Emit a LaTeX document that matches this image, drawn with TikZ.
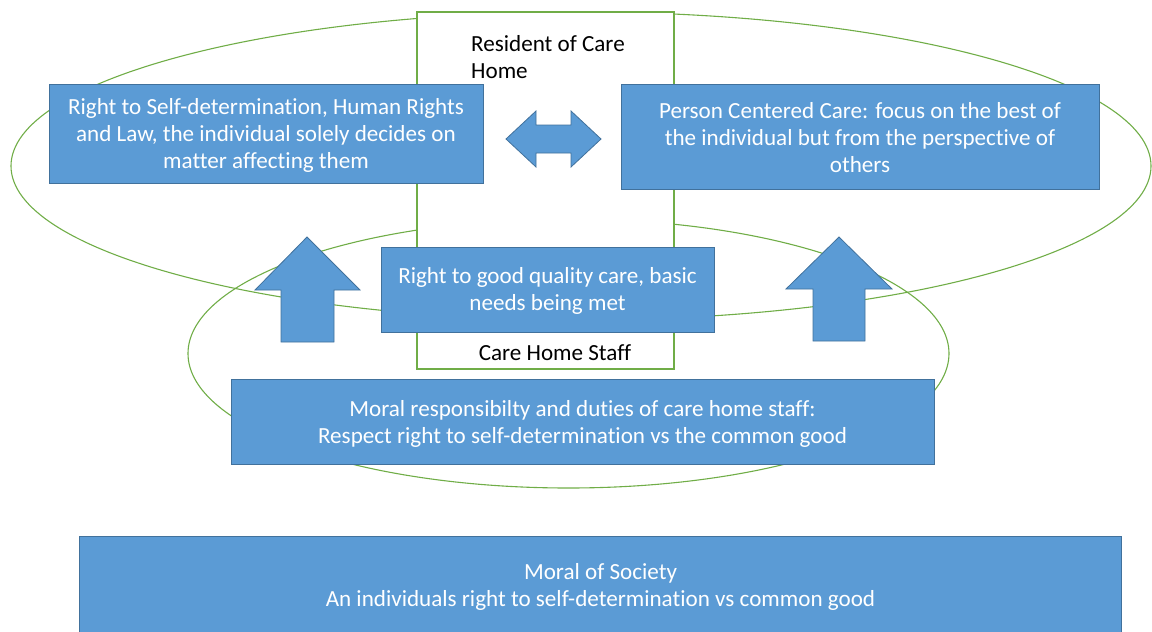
\documentclass[tikz,border=0pt]{standalone}
\usepackage{fontspec}
\setmainfont[Ligatures=NoCommon]{Carlito}
\definecolor{boxblue}{HTML}{5B9BD5}
\definecolor{boxedge}{HTML}{41719C}
\definecolor{ringgreen}{HTML}{70AD47}
\begin{document}
\begin{tikzpicture}[x=1pt,y=-1pt,
  ring/.style={draw=ringgreen,line width=1.1pt},
  bluebox/.style={fill=boxblue,draw=boxedge,line width=1pt,inner sep=0pt},
  boxtext/.style={text=white,align=center,inner sep=0pt,
    font=\fontsize{23.1}{27}\selectfont},
  bluearrow/.style={fill=boxblue,draw=boxedge,line width=0.8pt,line join=miter},
  plaintext/.style={text=black,inner sep=0pt,font=\fontsize{23.1}{27}\selectfont}]
\useasboundingbox (0,0) rectangle (1152,632);

% the two overlapping rings
\draw[ring] (581,166) ellipse [x radius=570pt, y radius=154pt];
\draw[ring] (568.5,353.5) ellipse [x radius=380.5pt, y radius=134.5pt];

% the resident / staff column
\draw[ring,fill=white] (417,12) rectangle (674,369);
\node[plaintext,anchor=west,align=left] (resident) at (471,57) {Resident of Care\\Home};
\node[plaintext] (staff) at (555,353) {Care Home Staff};

% blue boxes and their texts
\node[bluebox,minimum width=434pt,minimum height=99pt] (selfdet) at (266,133.5) {};
\node[boxtext] (selfdettext) at (266,135.5)
  {Right to Self-determination, Human Rights\\and Law, the individual solely decides on\\matter affecting them};
\node[bluebox,minimum width=478pt,minimum height=105pt] (pcc) at (860,136.5) {};
\node[boxtext] (pcctext) at (860,138)
  {Person Centered Care: focus on the best of\\the individual but from the perspective of\\others};
\node[bluebox,minimum width=333pt,minimum height=85pt] (quality) at (547.5,289.5) {};
\node[boxtext] (qualitytext) at (547.5,291)
  {Right to good quality care, basic\\needs being met};
\node[bluebox,minimum width=703pt,minimum height=85pt] (duties) at (582.5,421.5) {};
\node[boxtext] (dutiestext) at (582.5,424)
  {Moral responsibilty and duties of care home staff:\\Respect right to self-determination vs the common good};
\node[bluebox,minimum width=1042pt,minimum height=110pt] (society) at (600.5,591) {};
\node[boxtext] (societytext) at (600.5,587)
  {Moral of Society\\An individuals right to self-determination vs common good};

% block arrows
\draw[bluearrow] (506,139) -- (536,111) -- (536,125) -- (571,125) -- (571,111)
  -- (601,139) -- (571,167) -- (571,153) -- (536,153) -- (536,167) -- cycle;
\draw[bluearrow] (307,237) -- (360,290) -- (334,290) -- (334,342) -- (281,342)
  -- (281,290) -- (255,290) -- cycle;
\draw[bluearrow] (839,237) -- (892,289) -- (865,289) -- (865,341) -- (813,341)
  -- (813,289) -- (786,289) -- cycle;
\end{tikzpicture}
\end{document}
